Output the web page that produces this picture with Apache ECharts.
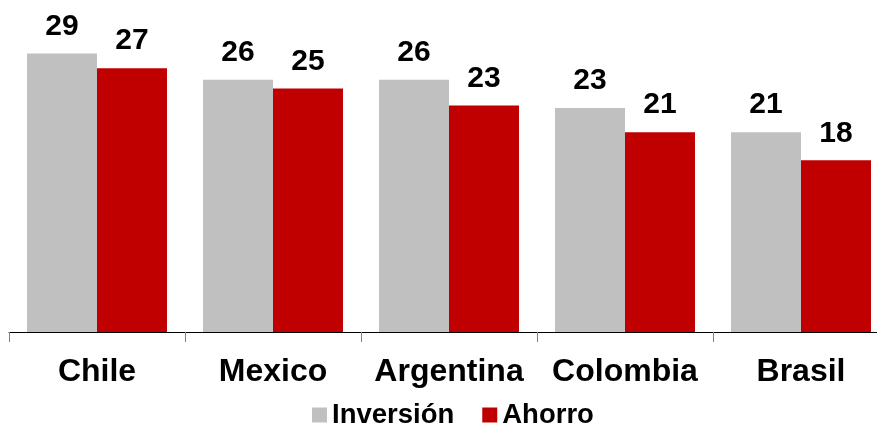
<!DOCTYPE html>
<html>
<head>
<meta charset="utf-8">
<script src="https://cdn.jsdelivr.net/npm/echarts@6/dist/echarts.min.js"></script>
<style>html,body{margin:0;padding:0;background:#fff;overflow:hidden}#c{width:889px;height:427px}</style>
</head>
<body>
<div id="c"></div>
<script>
const categories = ['Chile', 'Mexico', 'Argentina', 'Colombia', 'Brasil'];
const inversion = [28.7, 26.0, 26.0, 23.1, 20.6];
const ahorro = [27.2, 25.1, 23.35, 20.6, 17.7];
const seriesNames = ['Inversión', 'Ahorro'];

const FONT = '"Liberation Sans", Arial, sans-serif';
const chart = echarts.init(document.getElementById('c'), null, {renderer: 'canvas'});
const labelCfg = {
  show: true, position: 'top', distance: 12,
  fontFamily: FONT, fontWeight: 'bold', fontSize: 30, color: '#000',
  formatter: p => Math.round(p.value)
};
chart.setOption({
  animation: false,
  backgroundColor: '#fff',
  grid: {left: 9, right: 0, top: 41, bottom: 95, containLabel: false},
  legend: {
    left: 312, top: 401, padding: 0, itemWidth: 15, itemHeight: 15, itemGap: 28,
    icon: 'rect',
    textStyle: {fontFamily: FONT, fontWeight: 'bold', fontSize: 27.5, color: '#000'},
    data: seriesNames
  },
  xAxis: {
    type: 'category', data: categories,
    axisLine: {lineStyle: {color: '#000', width: 1}},
    axisTick: {show: true, interval: 0, length: 10, lineStyle: {color: '#808080'}},
    axisLabel: {interval: 0, fontFamily: FONT, fontWeight: 'bold', fontSize: 32, color: '#000', margin: 24}
  },
  yAxis: {type: 'value', min: 0, max: 30, show: false, splitLine: {show: false}},
  series: [
    {name: seriesNames[0], type: 'bar', data: inversion, barWidth: 70, barGap: '0%',
     itemStyle: {color: '#C0C0C0'}, label: labelCfg},
    {name: seriesNames[1], type: 'bar', data: ahorro, barWidth: 70, barGap: '0%',
     itemStyle: {color: '#C00000'}, label: labelCfg}
  ]
});
</script>
</body>
</html>
